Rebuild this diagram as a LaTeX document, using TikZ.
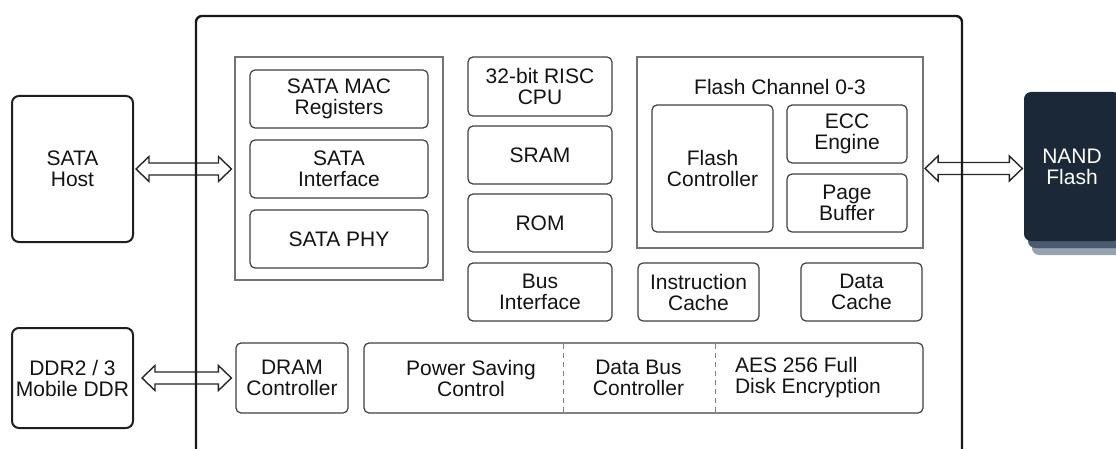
\documentclass[tikz,border=0pt]{standalone}
\usepackage{fontspec}
\setmainfont{Liberation Sans}
\usetikzlibrary{calc}
\definecolor{nandc}{HTML}{1B2838}
\definecolor{shdone}{HTML}{4B5A6E}
\definecolor{shdtwo}{HTML}{97A2B0}
\definecolor{inkc}{HTML}{141414}
\newcommand\biarr[2]{\draw[biarrow] let \p1=(#1), \p2=(#2), \n1={\x2-\x1-26pt} in (\p1) -- ++(13pt,12.5pt) -- ++(0pt,-6.5pt) -- ++(\n1,0pt) -- ++(0pt,6.5pt) -- ++(13pt,-12.5pt) -- ++(-13pt,-12.5pt) -- ++(0pt,6.5pt) -- ++(-\n1,0pt) -- ++(0pt,-6.5pt) -- cycle;}
\begin{document}
\begin{tikzpicture}[x=1pt,y=-1pt,
  txt/.style={font=\fontsize{21}{21}\selectfont, align=center, text=inkc},
  inbox/.style={draw=black!75, line width=1.2pt, rounded corners=5pt, txt, inner sep=0pt},
  grp/.style={draw=black!55, line width=1.1pt, inner sep=0pt},
  ext/.style={draw=black!88, line width=2pt, rounded corners=7pt, txt, inner sep=0pt},
  biarrow/.style={draw=black!85, line width=1.4pt, fill=white, line join=miter},
  divider/.style={draw=black!50, line width=1pt, dash pattern=on 5pt off 4pt},
]
\useasboundingbox (0,0) rectangle (1116,449);
\fill[white] (0,0) rectangle (1116,449);

% external boxes
\node[ext, minimum width=121pt, minimum height=146pt] (host) at (72.5,169) {SATA\\Host};
\node[ext, minimum width=121pt, minimum height=100pt] (ddr) at (72.5,378) {DDR2 / 3\\Mobile DDR};

% NAND flash with stacked shadow
\fill[shdtwo, rounded corners=7pt] (1032,110) rectangle (1130,255);
\fill[shdone, rounded corners=7pt] (1028,100) rectangle (1126,248);
\node[fill=nandc, rounded corners=7pt, minimum width=96pt, minimum height=149pt, inner sep=0pt,
      font=\fontsize{21}{21}\selectfont, align=center, text=white] (nand) at (1072,166.5) {NAND\\Flash};

% SATA group
\node[grp, minimum width=208pt, minimum height=223pt] (satagrp) at (339,168.5) {};
\node[inbox, minimum width=178pt, minimum height=58pt] (mac) at (339,99) {SATA MAC\\Registers};
\node[inbox, minimum width=178pt, minimum height=58pt] (sataint) at (339,169) {SATA\\Interface};
\node[inbox, minimum width=178pt, minimum height=58pt] (phy) at (339,239) {SATA PHY};

% middle column
\node[inbox, minimum width=144pt, minimum height=59pt] (cpu) at (540,86.5) {32-bit RISC\\CPU};
\node[inbox, minimum width=144pt, minimum height=58pt] (sram) at (540,155) {SRAM};
\node[inbox, minimum width=144pt, minimum height=58pt] (rom) at (540,223) {ROM};
\node[inbox, minimum width=144pt, minimum height=58pt] (busif) at (540,292) {Bus\\Interface};

% flash channel group
\node[grp, minimum width=286pt, minimum height=191pt] (flashgrp) at (780,152.5) {};
\node[txt] (fctitle) at (780,87) {Flash Channel 0-3};
\node[inbox, minimum width=121pt, minimum height=127pt] (flashctl) at (712.5,168.5) {Flash\\Controller};
\node[inbox, minimum width=120pt, minimum height=58pt] (ecc) at (847,134) {ECC\\Engine};
\node[inbox, minimum width=120pt, minimum height=58pt] (pagebuf) at (847,203) {Page\\Buffer};

% caches
\node[inbox, minimum width=121pt, minimum height=58pt] (icache) at (698.5,292) {Instruction\\Cache};
\node[inbox, minimum width=121pt, minimum height=58pt] (dcache) at (861.5,292) {Data\\Cache};

% bottom row
\node[inbox, minimum width=112pt, minimum height=70pt] (dram) at (292,378) {DRAM\\Controller};
\node[inbox, minimum width=559pt, minimum height=70pt] (bigbox) at (643.5,378) {};
\draw[divider] (563,344) -- (563,412);
\draw[divider] (715,344) -- (715,412);
\node[txt] (psc) at (471,378) {Power Saving\\Control};
\node[txt] (dbc) at (638.5,378) {Data Bus\\Controller};
\node[txt, align=left] (aes) at (808,378) {AES 256 Full\\Disk Encryption};

% arrows
\coordinate (s1) at ([xshift=2pt]host.east);
\coordinate (s2) at ([xshift=-3pt]satagrp.west |- host.east);
\coordinate (f1) at ([xshift=1.5pt]flashgrp.east |- flashctl.east);
\coordinate (f2) at ([xshift=-1.5pt]nand.west |- flashctl.east);
\coordinate (d1) at ([xshift=8pt]ddr.east);
\coordinate (d2) at ([xshift=-4pt]dram.west);
\biarr{s1}{s2}
\biarr{f1}{f2}
\biarr{d1}{d2}

% chip outline
\draw[line width=2.4pt, draw=black!90, rounded corners=6pt] (196,480) -- (196,16) -- (962,16) -- (962,480);
\end{tikzpicture}
\end{document}
